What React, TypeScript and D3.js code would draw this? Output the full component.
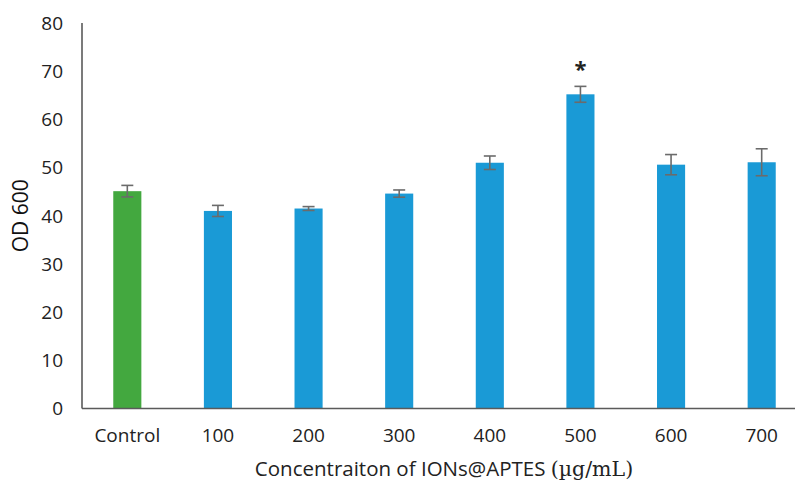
import React from "react";
import * as d3 from "d3";

// values
const categories = ["Control", "100", "200", "300", "400", "500", "600", "700"];
const odValues = [45.1, 41.0, 41.5, 44.6, 51.0, 65.2, 50.6, 51.1];
const odErrors = [1.2, 1.15, 0.4, 0.75, 1.4, 1.65, 2.1, 2.8];
const significant = ["500"];
const yTicks = [0, 10, 20, 30, 40, 50, 60, 70, 80];

const width = 795;
const height = 481;
const margin = { top: 23, right: -12, bottom: 73, left: 82 };

const font = "'Open Sans', 'Liberation Sans', sans-serif";

const App = () => {
  const x = d3
    .scaleBand()
    .domain(categories)
    .range([margin.left, width - margin.right])
    .paddingInner(0.69)
    .paddingOuter(0.345);

  const y = d3
    .scaleLinear()
    .domain([0, 80])
    .range([height - margin.bottom + 0.5, margin.top]);

  const y0 = y(0);
  const capHalf = 6;

  return (
    <svg
      width={width}
      height={height}
      style={{ position: "absolute", left: 0, top: 0, background: "#fff" }}
      fontFamily={font}
    >
      {/* bars */}
      {categories.map((c, i) => (
        <rect
          key={c}
          x={x(c)}
          y={y(odValues[i])}
          width={x.bandwidth()}
          height={y0 - y(odValues[i])}
          fill={i === 0 ? "#43a83f" : "#1a9ad6"}
        />
      ))}

      {/* error bars */}
      {categories.map((c, i) => {
        const cx = (x(c) as number) + x.bandwidth() / 2;
        const hi = y(odValues[i] + odErrors[i]);
        const lo = y(odValues[i] - odErrors[i]);
        return (
          <g key={"e" + c} stroke="#6b6b6b" strokeWidth={1.6}>
            <line x1={cx} x2={cx} y1={hi} y2={lo} />
            <line x1={cx - capHalf} x2={cx + capHalf} y1={hi} y2={hi} />
            <line x1={cx - capHalf} x2={cx + capHalf} y1={lo} y2={lo} />
          </g>
        );
      })}

      {/* significance marks */}
      {significant.map((c) => {
        const i = categories.indexOf(c);
        const cx = (x(c) as number) + x.bandwidth() / 2;
        return (
          <text
            key={"s" + c}
            x={cx}
            y={y(odValues[i] + odErrors[i]) - 9}
            textAnchor="middle"
            fontSize={22}
            fontWeight="bold"
            fill="#222"
          >
            *
          </text>
        );
      })}

      {/* axes */}
      <line
        x1={margin.left}
        x2={width}
        y1={y0}
        y2={y0}
        stroke="#5a5a5a"
        strokeWidth={1.6}
      />
      <line
        x1={margin.left}
        x2={margin.left}
        y1={margin.top}
        y2={y0}
        stroke="#5a5a5a"
        strokeWidth={1.6}
      />

      {yTicks.map((t) => (
        <text
          key={"y" + t}
          x={63}
          y={y(t)}
          dy="0.36em"
          textAnchor="end"
          fontSize={19}
          fill="#222"
        >
          {t}
        </text>
      ))}

      {categories.map((c) => (
        <text
          key={"x" + c}
          x={(x(c) as number) + x.bandwidth() / 2}
          y={442}
          textAnchor="middle"
          fontSize={19}
          fill="#222"
        >
          {c}
        </text>
      ))}

      <text
        x={444}
        y={476}
        textAnchor="middle"
        fontSize={20.5}
        fill="#222"
      >
        Concentraiton of IONs@APTES{" "}
        <tspan fontFamily="'DejaVu Serif', 'Liberation Serif', serif">(µg/mL)</tspan>
      </text>

      <text
        transform={`translate(28, ${(margin.top + y0) / 2}) rotate(-90)`}
        textAnchor="middle"
        fontSize={21}
        fill="#111"
      >
        OD 600
      </text>
    </svg>
  );
};

export default App;
